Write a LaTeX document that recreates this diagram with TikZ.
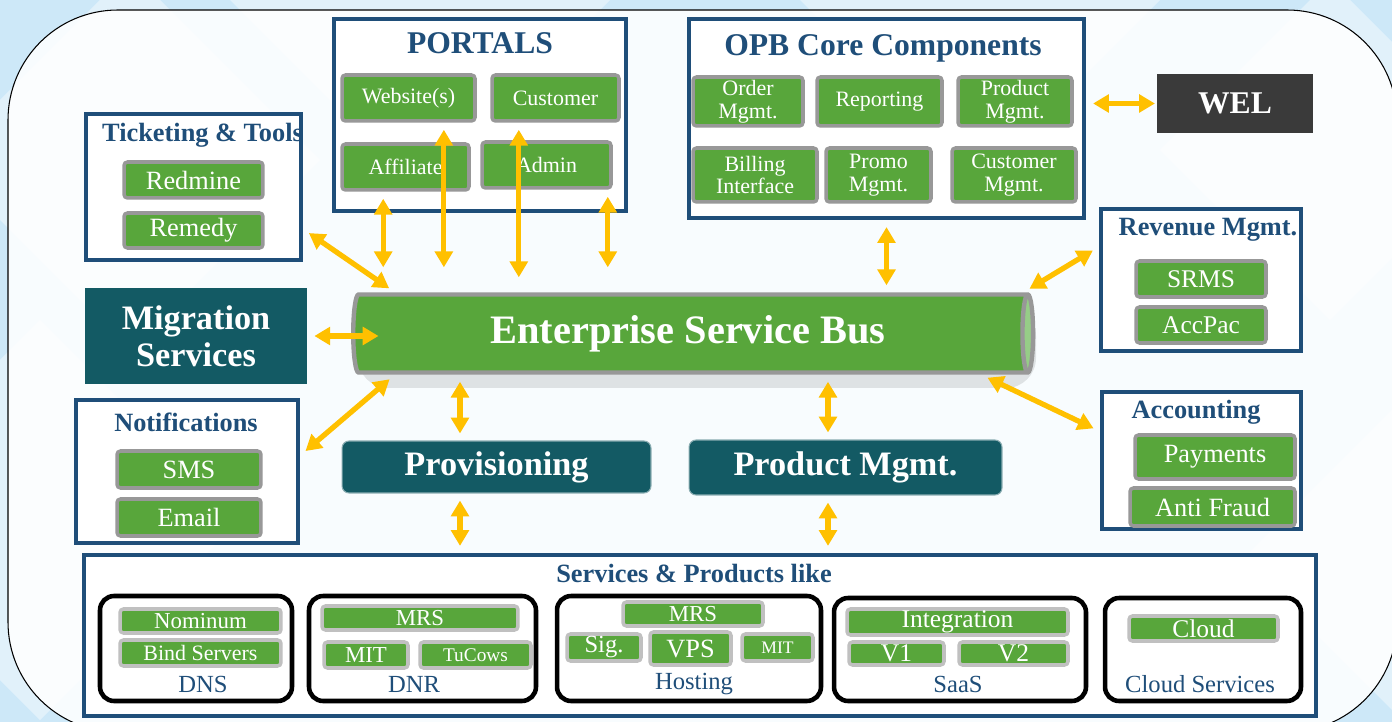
\documentclass[tikz,border=0pt]{standalone}
\usepackage{fontspec}
\setmainfont{Liberation Serif}
\usetikzlibrary{shapes.geometric, arrows.meta}

\definecolor{bgblue}{RGB}{205,232,248}
\definecolor{navy}{RGB}{31,78,121}
\definecolor{leaf}{RGB}{88,166,59}
\definecolor{rim}{RGB}{152,152,152}
\definecolor{softrim}{RGB}{192,192,192}
\definecolor{deepteal}{RGB}{19,90,100}
\definecolor{amber}{RGB}{255,192,0}
\definecolor{charcoal}{RGB}{58,58,58}
\definecolor{capgreen}{RGB}{150,205,135}

\begin{document}
\begin{tikzpicture}[x=0.02cm, y=-0.02cm,
    sz/.style 2 args={minimum width=#1cm, minimum height=#2cm},
    panel/.style={draw=navy, line width=2.4pt, fill=white},
    heading/.style={text=navy, font=\bfseries\fontsize{15}{17}\selectfont},
    bigheading/.style={text=navy, font=\bfseries\fontsize{18}{20}\selectfont},
    item/.style={draw=rim, line width=2pt, rounded corners=2pt, fill=leaf, text=white, align=center, inner sep=0pt, font=\fontsize{15}{16}\selectfont},
    small/.style={item, font=\fontsize{12.5}{13}\selectfont},
    svc/.style={item, draw=softrim, font=\fontsize{13}{14}\selectfont},
    group/.style={draw=black, line width=2.6pt, rounded corners=8pt, fill=white},
    grouplabel/.style={text=navy, font=\fontsize{14}{16}\selectfont},
    block/.style={fill=deepteal, text=white, align=center, font=\bfseries\fontsize{19.5}{22}\selectfont},
    biarrow/.style={draw=amber, line width=3pt, {Triangle[length=9pt,width=10pt]}-{Triangle[length=9pt,width=10pt]}, shorten <=4pt, shorten >=4pt}]

    \useasboundingbox (0,0) rectangle (1392,722);
    \fill[bgblue] (0,0) rectangle (1392,722);
    \foreach \cx/\cy/\s in {130/160/190, 420/-40/230, 980/-80/260, 1330/150/170, 40/520/200, 1392/560/150}
        \fill[white, opacity=0.4] (\cx,\cy-\s) -- (\cx+\s,\cy) -- (\cx,\cy+\s) -- (\cx-\s,\cy) -- cycle;
    \draw[line width=0.6pt, fill=white, fill opacity=0.88, rounded corners=2.2cm] (8,10) rectangle (1397,732);

    \node[panel, sz={4.3}{2.92}] (tick) at (193.5,187) {};
    \node[heading, anchor=west] (ticktitle) at (96,135) {Ticketing \& Tools};
    \node[item, sz={2.78}{0.72}] (redmine) at (193.5,180) {Redmine};
    \node[item, sz={2.78}{0.70}] (remedy) at (193.5,230.5) {Remedy};

    \node[panel, sz={5.84}{3.84}] (portals) at (480,115) {};
    \node[bigheading] (portaltitle) at (480,43) {PORTALS};
    \node[small, sz={2.66}{0.92}] (web) at (408.5,98) {Website(s)};
    \node[small, sz={2.54}{0.92}] (cust) at (555.5,98) {Customer};
    \node[small, sz={2.54}{0.92}] (aff) at (405.5,167) {Affiliate};
    \node[small, sz={2.58}{0.92}] (adm) at (546.5,165) {Admin};

    \node[panel, sz={7.9}{3.98}] (opb) at (886.5,118.5) {};
    \node[bigheading] (opbtitle) at (883,48) {OPB Core Components};
    \node[small, sz={2.2}{0.98}] (order) at (748,101.5) {Order\\Mgmt.};
    \node[small, sz={2.5}{0.98}] (report) at (879.5,101.5) {Reporting};
    \node[small, sz={2.28}{0.98}] (prodm) at (1015,101.5) {Product\\Mgmt.};
    \node[small, sz={2.48}{1.08}] (bill) at (755,175) {Billing\\Interface};
    \node[small, sz={2.1}{1.08}] (promo) at (878.5,175) {Promo\\Mgmt.};
    \node[small, sz={2.48}{1.08}] (custm) at (1014,175) {Customer\\Mgmt.};

    \node[block, fill=charcoal, sz={3.12}{1.18}, font=\bfseries\fontsize{18}{20}\selectfont] (wel) at (1235,103.5) {WEL};

    \node[panel, sz={4.0}{2.84}] (rev) at (1201,280) {};
    \node[heading] (revtitle) at (1208,230) {Revenue Mgmt.};
    \node[item, sz={2.6}{0.72}, font=\fontsize{14.5}{16}\selectfont] (srms) at (1201,279) {SRMS};
    \node[item, sz={2.6}{0.72}, font=\fontsize{14.5}{16}\selectfont] (accpac) at (1201,325) {AccPac};

    \node[panel, sz={3.98}{2.74}] (acc) at (1201.5,460.5) {};
    \node[heading] (acctitle) at (1196,412) {Accounting};
    \node[item, sz={3.2}{0.88}] (pay) at (1215,457) {Payments};
    \node[item, sz={3.3}{0.76}] (fraud) at (1212.5,507) {Anti Fraud};

    \node[panel, sz={4.44}{2.86}] (noti) at (187,471.5) {};
    \node[heading] (notititle) at (186,422) {Notifications};
    \node[item, sz={2.88}{0.74}] (sms) at (189,469.5) {SMS};
    \node[item, sz={2.88}{0.74}] (email) at (189,517.5) {Email};

    \node[block, sz={4.44}{1.92}, font=\bfseries\fontsize{19.5}{21}\selectfont] (mig) at (196,336) {Migration\\Services};
    \node[block, draw=deepteal!50!white, line width=0.6pt, rounded corners=4pt, sz={6.18}{1.04}] (prov) at (496.5,467) {Provisioning};
    \node[block, draw=deepteal!50!white, line width=0.6pt, rounded corners=4pt, sz={6.26}{1.1}] (prod) at (845.5,467.5) {Product Mgmt.};

    \fill[black, opacity=0.1, rounded corners=0.6cm] (358,306) rectangle (1036,388);
    \node[cylinder, shape aspect=0.22, cylinder uses custom fill, cylinder body fill=leaf, cylinder end fill=capgreen,
        draw=rim, line width=2.5pt, minimum height=13.6cm, minimum width=1.56cm, text=white,
        font=\bfseries\fontsize{23}{26}\selectfont] (esb) at (688,333.5) {Enterprise Service Bus};

    \node[panel, sz={24.64}{3.22}] (serv) at (700,635.5) {};
    \node[heading] (servtitle) at (694,574) {Services \& Products like};

    \node[group, sz={3.84}{2.1}] (dns) at (196,648.5) {};
    \node[svc, sz={3.22}{0.48}] (nominum) at (200.5,621) {Nominum};
    \node[svc, sz={3.22}{0.52}, font=\fontsize{12.5}{14}\selectfont] (bind) at (200.5,653) {Bind Servers};
    \node[grouplabel] (dnslabel) at (203,684) {DNS};

    \node[group, sz={4.54}{2.1}] (dnr) at (422.5,648.5) {};
    \node[svc, sz={3.92}{0.48}] (mrs) at (420,618) {MRS};
    \node[svc, sz={1.68}{0.52}] (mit) at (366,655) {MIT};
    \node[svc, sz={2.22}{0.52}, font=\fontsize{11}{12}\selectfont] (tucows) at (475.5,655) {TuCows};
    \node[grouplabel] (dnrlabel) at (414,684) {DNR};

    \node[group, sz={5.28}{2.1}] (host) at (689,648.5) {};
    \node[svc, sz={2.8}{0.48}] (hmrs) at (693,614) {MRS};
    \node[svc, sz={1.48}{0.54}, font=\fontsize{14}{15}\selectfont] (sig) at (604,647.5) {Sig.};
    \node[svc, sz={1.62}{0.66}, font=\fontsize{15}{16}\selectfont] (vps) at (690.5,648.5) {VPS};
    \node[svc, sz={1.42}{0.54}, font=\fontsize{10}{11}\selectfont] (hmit) at (777.5,647.5) {MIT};
    \node[grouplabel] (hostlabel) at (694,684) {Hosting};

    \node[group, sz={5.04}{2.06}] (saas) at (960,649.5) {};
    \node[svc, sz={4.42}{0.52}, font=\fontsize{14.5}{15}\selectfont] (integ) at (957.5,622) {Integration};
    \node[svc, sz={1.9}{0.46}, font=\fontsize{14.5}{15}\selectfont] (vone) at (896.5,653.5) {V1};
    \node[svc, sz={2.18}{0.46}, font=\fontsize{14.5}{15}\selectfont] (vtwo) at (1013.5,653.5) {V2};
    \node[grouplabel] (saaslabel) at (958,684) {SaaS};

    \node[group, sz={3.92}{2.06}] (cloudgrp) at (1203,649.5) {};
    \node[svc, sz={2.98}{0.5}, font=\fontsize{14.5}{15}\selectfont] (cloud) at (1203.5,628.5) {Cloud};
    \node[grouplabel] (cloudlabel) at (1200,684) {Cloud Services};

    \draw[biarrow] (tick.339) -- (esb.172);
    \draw[biarrow, shorten >=0.5cm] (aff.228) -- (aff.228 |- esb.north);
    \draw[biarrow, shorten >=0.5cm] (web.325) -- (web.325 |- esb.north);
    \draw[biarrow, shorten >=0.3cm] (cust.214) -- (cust.214 |- esb.north);
    \draw[biarrow, shorten >=0.5cm] (adm.338) -- (adm.338 |- esb.north);
    \draw[biarrow] (opb.south) -- (opb.south |- esb.north);
    \draw[biarrow, shorten >=1pt] (wel.west -| opb.east) -- (wel.west);
    \draw[biarrow] (rev.162) -- (esb.7);
    \draw[biarrow, shorten >=-0.55cm] (mig.east) -- (mig.east -| esb.west);
    \draw[biarrow] (noti.8) -- (esb.188);
    \draw[biarrow] (prov.144 |- esb.south) -- (prov.144);
    \draw[biarrow] (prod.122 |- esb.south) -- (prod.122);
    \draw[biarrow] (acc.164) -- (esb.352);
    \draw[biarrow] (prov.216) -- (prov.216 |- serv.north);
    \draw[biarrow] (prod.238) -- (prod.238 |- serv.north);
\end{tikzpicture}
\end{document}
